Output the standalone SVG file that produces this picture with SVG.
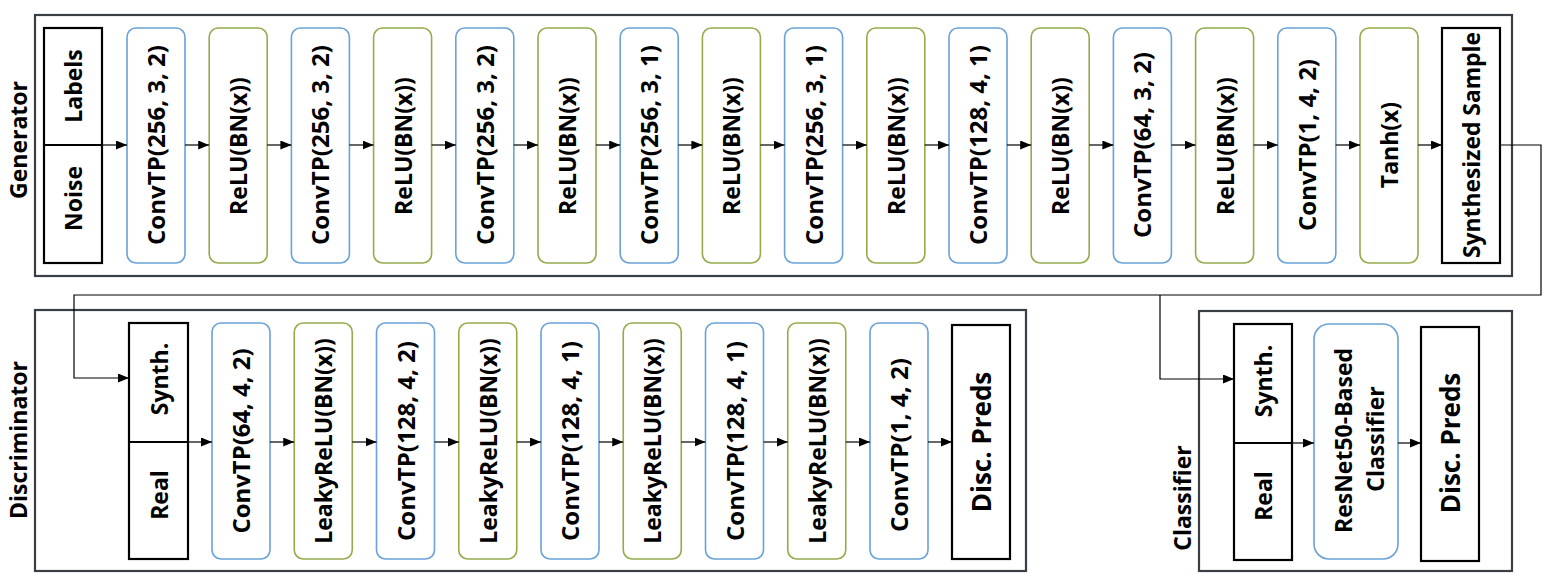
<svg xmlns="http://www.w3.org/2000/svg" width="1551" height="588" viewBox="0 0 1551 588">
<defs>
<marker id="ah" markerUnits="userSpaceOnUse" markerWidth="11" markerHeight="9" refX="11" refY="4.5" orient="auto"><path d="M0,0 L11,4.5 L0,9 z" fill="#000"/></marker>
<style>
.outer{fill:#fff;stroke:#3a3f45;stroke-width:2.2}
.blk{fill:#fff;stroke:#000;stroke-width:2.2}
.conv{fill:#fff;stroke:#6aa2d8;stroke-width:1.6}
.act{fill:#fff;stroke:#94ab4c;stroke-width:1.6}
.t{font-family:"Open Sans","DejaVu Sans",sans-serif;font-weight:bold;font-size:23px;fill:#000;text-anchor:middle;dominant-baseline:central}
.big{font-size:26px}
.c{fill:none;stroke:#000;stroke-width:1.2}
.a{marker-end:url(#ah)}
</style>
</defs>
<rect width="1551" height="588" fill="#fff"/>

<g id="generator">
<rect class="outer" x="35" y="15" width="1477" height="261"/>
<text class="t" transform="translate(18,140) rotate(-90)">Generator</text>
</g>
<g id="discriminator">
<rect class="outer" x="35" y="310" width="991" height="261"/>
<text class="t" transform="translate(18,440) rotate(-90)">Discriminator</text>
</g>
<g id="classifier">
<rect class="outer" x="1199" y="311" width="313" height="260"/>
<text class="t" transform="translate(1182,498) rotate(-90)">Classifier</text>
</g>

<g id="gen-input">
<rect class="blk" x="44" y="28" width="58" height="235"/>
<line x1="44" y1="145" x2="102" y2="145" stroke="#000" stroke-width="2.2"/>
<text class="t" transform="translate(73,86) rotate(-90)">Labels</text>
<text class="t" transform="translate(73,198.5) rotate(-90)">Noise</text>
</g>
<g id="g0"><rect class="conv" x="127" y="28" width="58" height="235" rx="9"/><text class="t" transform="translate(156,145) rotate(-90)" textLength="200" lengthAdjust="spacingAndGlyphs">ConvTP(256, 3, 2)</text></g>
<g id="g1"><rect class="act" x="209.2" y="28" width="58" height="235" rx="9"/><text class="t" transform="translate(238.2,146) rotate(-90)">ReLU(BN(x))</text></g>
<g id="g2"><rect class="conv" x="291.4" y="28" width="58" height="235" rx="9"/><text class="t" transform="translate(320.4,145) rotate(-90)" textLength="200" lengthAdjust="spacingAndGlyphs">ConvTP(256, 3, 2)</text></g>
<g id="g3"><rect class="act" x="373.6" y="28" width="58" height="235" rx="9"/><text class="t" transform="translate(402.6,146) rotate(-90)">ReLU(BN(x))</text></g>
<g id="g4"><rect class="conv" x="455.8" y="28" width="58" height="235" rx="9"/><text class="t" transform="translate(484.8,145) rotate(-90)" textLength="200" lengthAdjust="spacingAndGlyphs">ConvTP(256, 3, 2)</text></g>
<g id="g5"><rect class="act" x="538" y="28" width="58" height="235" rx="9"/><text class="t" transform="translate(567,146) rotate(-90)">ReLU(BN(x))</text></g>
<g id="g6"><rect class="conv" x="620.2" y="28" width="58" height="235" rx="9"/><text class="t" transform="translate(649.2,145) rotate(-90)" textLength="200" lengthAdjust="spacingAndGlyphs">ConvTP(256, 3, 1)</text></g>
<g id="g7"><rect class="act" x="702.4" y="28" width="58" height="235" rx="9"/><text class="t" transform="translate(731.4,146) rotate(-90)">ReLU(BN(x))</text></g>
<g id="g8"><rect class="conv" x="784.6" y="28" width="58" height="235" rx="9"/><text class="t" transform="translate(813.6,145) rotate(-90)" textLength="200" lengthAdjust="spacingAndGlyphs">ConvTP(256, 3, 1)</text></g>
<g id="g9"><rect class="act" x="866.8" y="28" width="58" height="235" rx="9"/><text class="t" transform="translate(895.8,146) rotate(-90)">ReLU(BN(x))</text></g>
<g id="g10"><rect class="conv" x="949" y="28" width="58" height="235" rx="9"/><text class="t" transform="translate(978,145) rotate(-90)" textLength="200" lengthAdjust="spacingAndGlyphs">ConvTP(128, 4, 1)</text></g>
<g id="g11"><rect class="act" x="1031.2" y="28" width="58" height="235" rx="9"/><text class="t" transform="translate(1060.2,146) rotate(-90)">ReLU(BN(x))</text></g>
<g id="g12"><rect class="conv" x="1113.4" y="28" width="58" height="235" rx="9"/><text class="t" transform="translate(1142.4,145) rotate(-90)" textLength="186" lengthAdjust="spacingAndGlyphs">ConvTP(64, 3, 2)</text></g>
<g id="g13"><rect class="act" x="1195.6" y="28" width="58" height="235" rx="9"/><text class="t" transform="translate(1224.6,146) rotate(-90)">ReLU(BN(x))</text></g>
<g id="g14"><rect class="conv" x="1277.8" y="28" width="58" height="235" rx="9"/><text class="t" transform="translate(1306.8,145) rotate(-90)" textLength="172" lengthAdjust="spacingAndGlyphs">ConvTP(1, 4, 2)</text></g>
<g id="g15"><rect class="act" x="1360" y="28" width="58" height="235" rx="9"/><text class="t" transform="translate(1389,145) rotate(-90)">Tanh(x)</text></g>
<g id="g-out"><rect class="blk" x="1442" y="28" width="58" height="235"/><text class="t" transform="translate(1471,145) rotate(-90)" textLength="226" lengthAdjust="spacingAndGlyphs">Synthesized Sample</text></g>

<g id="disc-input">
<rect class="blk" x="129" y="323" width="59" height="236"/>
<line x1="129" y1="442" x2="188" y2="442" stroke="#000" stroke-width="2.2"/>
<text class="t" transform="translate(158.5,379) rotate(-90)">Synth.</text>
<text class="t" transform="translate(158.5,495) rotate(-90)">Real</text>
</g>
<g id="d0"><rect class="conv" x="212" y="323" width="58" height="236" rx="9"/><text class="t" transform="translate(241,441) rotate(-90)" textLength="185" lengthAdjust="spacingAndGlyphs">ConvTP(64, 4, 2)</text></g>
<g id="d1"><rect class="act" x="294.25" y="323" width="58" height="236" rx="9"/><text class="t" transform="translate(323.25,441) rotate(-90)">LeakyReLU(BN(x))</text></g>
<g id="d2"><rect class="conv" x="376.5" y="323" width="58" height="236" rx="9"/><text class="t" transform="translate(405.5,441) rotate(-90)" textLength="200" lengthAdjust="spacingAndGlyphs">ConvTP(128, 4, 2)</text></g>
<g id="d3"><rect class="act" x="458.75" y="323" width="58" height="236" rx="9"/><text class="t" transform="translate(487.75,441) rotate(-90)">LeakyReLU(BN(x))</text></g>
<g id="d4"><rect class="conv" x="541" y="323" width="58" height="236" rx="9"/><text class="t" transform="translate(570,441) rotate(-90)" textLength="200" lengthAdjust="spacingAndGlyphs">ConvTP(128, 4, 1)</text></g>
<g id="d5"><rect class="act" x="623.25" y="323" width="58" height="236" rx="9"/><text class="t" transform="translate(652.25,441) rotate(-90)">LeakyReLU(BN(x))</text></g>
<g id="d6"><rect class="conv" x="705.5" y="323" width="58" height="236" rx="9"/><text class="t" transform="translate(734.5,441) rotate(-90)" textLength="200" lengthAdjust="spacingAndGlyphs">ConvTP(128, 4, 1)</text></g>
<g id="d7"><rect class="act" x="787.75" y="323" width="58" height="236" rx="9"/><text class="t" transform="translate(816.75,441) rotate(-90)">LeakyReLU(BN(x))</text></g>
<g id="d8"><rect class="conv" x="870" y="323" width="58" height="236" rx="9"/><text class="t" transform="translate(899,445) rotate(-90)" textLength="174" lengthAdjust="spacingAndGlyphs">ConvTP(1, 4, 2)</text></g>
<g id="d-out"><rect class="blk" x="952" y="325" width="58" height="234"/><text class="t big" transform="translate(981,442) rotate(-90)">Disc. Preds</text></g>

<g id="cls-input">
<rect class="blk" x="1234" y="324" width="58" height="236"/>
<line x1="1234" y1="443" x2="1292" y2="443" stroke="#000" stroke-width="2.2"/>
<text class="t" transform="translate(1263,381) rotate(-90)">Synth.</text>
<text class="t" transform="translate(1263,496) rotate(-90)">Real</text>
</g>
<g id="resnet"><rect class="conv" x="1314" y="324" width="84" height="235" rx="15"/>
<text class="t" transform="translate(1343,440.5) rotate(-90)">ResNet50-Based</text>
<text class="t" transform="translate(1375,439) rotate(-90)">Classifier</text></g>
<g id="c-out"><rect class="blk" x="1421" y="327" width="58" height="234"/><text class="t big" transform="translate(1450,443) rotate(-90)">Disc. Preds</text></g>

<g id="connectors">
<line class="c a" x1="102" y1="145" x2="127" y2="145"/>
<line class="c a" x1="185" y1="145" x2="209.2" y2="145"/>
<line class="c a" x1="267.2" y1="145" x2="291.4" y2="145"/>
<line class="c a" x1="349.4" y1="145" x2="373.6" y2="145"/>
<line class="c a" x1="431.6" y1="145" x2="455.8" y2="145"/>
<line class="c a" x1="513.8" y1="145" x2="538" y2="145"/>
<line class="c a" x1="596" y1="145" x2="620.2" y2="145"/>
<line class="c a" x1="678.2" y1="145" x2="702.4" y2="145"/>
<line class="c a" x1="760.4" y1="145" x2="784.6" y2="145"/>
<line class="c a" x1="842.6" y1="145" x2="866.8" y2="145"/>
<line class="c a" x1="924.8" y1="145" x2="949" y2="145"/>
<line class="c a" x1="1007" y1="145" x2="1031.2" y2="145"/>
<line class="c a" x1="1089.2" y1="145" x2="1113.4" y2="145"/>
<line class="c a" x1="1171.4" y1="145" x2="1195.6" y2="145"/>
<line class="c a" x1="1253.6" y1="145" x2="1277.8" y2="145"/>
<line class="c a" x1="1335.8" y1="145" x2="1360" y2="145"/>
<line class="c a" x1="1418" y1="145" x2="1442" y2="145"/>
<path class="c a" d="M1500,145 H1541 V295 H74 V378 H129"/>
<path class="c a" d="M1160,295 V379 H1234"/>
<line class="c a" x1="188" y1="442" x2="212" y2="442"/>
<line class="c a" x1="270" y1="442" x2="294.25" y2="442"/>
<line class="c a" x1="352.25" y1="442" x2="376.5" y2="442"/>
<line class="c a" x1="434.5" y1="442" x2="458.75" y2="442"/>
<line class="c a" x1="516.75" y1="442" x2="541" y2="442"/>
<line class="c a" x1="599" y1="442" x2="623.25" y2="442"/>
<line class="c a" x1="681.25" y1="442" x2="705.5" y2="442"/>
<line class="c a" x1="763.5" y1="442" x2="787.75" y2="442"/>
<line class="c a" x1="845.75" y1="442" x2="870" y2="442"/>
<line class="c a" x1="928" y1="442" x2="952" y2="442"/>
<line class="c a" x1="1292" y1="443" x2="1314" y2="443"/>
<line class="c a" x1="1398" y1="443" x2="1421" y2="443"/>
</g>
</svg>
